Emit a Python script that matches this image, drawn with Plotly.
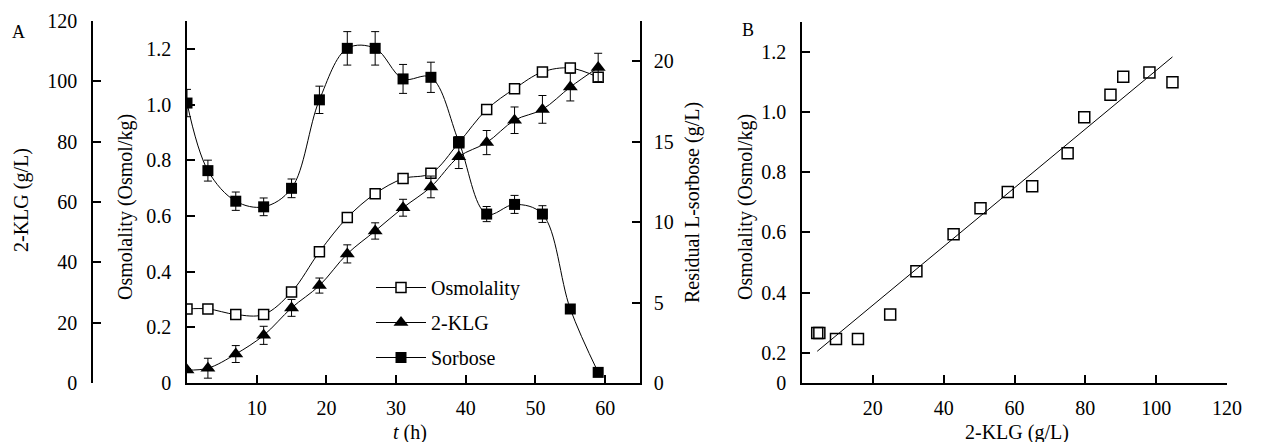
import numpy as np
import plotly.graph_objects as go

# ---------------- data ----------------
time_h = [0, 3, 7, 11, 15, 19, 23, 27, 31, 35, 39, 43, 47, 51, 55, 59]
osmolality = [0.266, 0.266, 0.246, 0.246, 0.327, 0.471, 0.594, 0.680, 0.734,
              0.753, 0.863, 0.982, 1.057, 1.117, 1.131, 1.098]
osmolality_err = [0.01] * 16
klg = [4.3, 4.9, 9.6, 15.8, 24.9, 32.3, 42.8, 50.4, 58.1, 65.0, 75.0, 79.7,
       87.1, 90.7, 98.1, 104.6]
klg_err = [0.5, 3.3, 2.8, 3.0, 2.8, 2.5, 3.0, 2.7, 2.8, 3.6, 3.9, 4.0, 4.4, 4.6, 4.6, 4.7]
sorbose = [17.4, 13.2, 11.3, 10.95, 12.1, 17.6, 20.8, 20.8, 18.9, 19.0, 15.0,
           10.5, 11.1, 10.5, 4.6, 0.66]
sorbose_err = [0.85, 0.65, 0.57, 0.55, 0.58, 0.85, 1.04, 1.04, 0.9, 0.94, 0.3,
               0.47, 0.56, 0.52, 0.1, 0.1]

x_ticks_A = [10, 20, 30, 40, 50, 60]
osm_ticks = [0, 0.2, 0.4, 0.6, 0.8, 1.0, 1.2]
osm_ticktext = ["0", "0.2", "0.4", "0.6", "0.8", "1.0", "1.2"]
klg_ticks = [0, 20, 40, 60, 80, 100, 120]
sorb_ticks = [0, 5, 10, 15, 20]
x_ticks_B = [20, 40, 60, 80, 100, 120]
osm_ticks_B = [0.1, 0.2, 0.4, 0.6, 0.8, 1.0, 1.2]
osm_ticktext_B = ["0", "0.2", "0.4", "0.6", "0.8", "1.0", "1.2"]

# linear fit for panel B
slope, intercept = np.polyfit(klg, osmolality, 1)
fit_x = [min(klg), max(klg)]
fit_y = [slope * v + intercept for v in fit_x]

W, H = 1276, 442
FONT = "Liberation Serif, Times New Roman, serif"
FS = 20

def px(x):
    return x / W

def py(y):
    return (H - y) / H

fig = go.Figure()

err_style = dict(color="black", thickness=1, width=4)

fig.add_trace(go.Scatter(
    x=time_h, y=osmolality, name="Osmolality", mode="lines+markers", legendgroup="a",
    line=dict(color="black", width=1, shape="spline", smoothing=1.0),
    marker=dict(symbol="square", size=10, color="white", line=dict(color="black", width=1.5)),
    error_y=dict(type="data", array=osmolality_err, visible=True, **err_style),
    xaxis="x", yaxis="y"))

fig.add_trace(go.Scatter(
    x=time_h, y=klg, name="2-KLG", mode="lines+markers", legendgroup="b",
    line=dict(color="black", width=1, shape="spline", smoothing=1.0),
    marker=dict(symbol="triangle-up", size=13, color="black"),
    error_y=dict(type="data", array=klg_err, visible=True, **err_style),
    xaxis="x", yaxis="y2"))

fig.add_trace(go.Scatter(
    x=time_h, y=sorbose, name="Sorbose", mode="lines+markers", legendgroup="c",
    line=dict(color="black", width=1, shape="spline", smoothing=1.0),
    marker=dict(symbol="square", size=11, color="black"),
    error_y=dict(type="data", array=sorbose_err, visible=True, **err_style),
    xaxis="x", yaxis="y3"))

# Panel B
fig.add_trace(go.Scatter(
    x=fit_x, y=fit_y, mode="lines", showlegend=False,
    line=dict(color="black", width=1), xaxis="x2", yaxis="y4"))
fig.add_trace(go.Scatter(
    x=klg, y=osmolality, mode="markers", showlegend=False,
    marker=dict(symbol="square-open", size=11, color="black", line=dict(width=1.5)),
    xaxis="x2", yaxis="y4"))

axis_common = dict(showline=True, linecolor="black", linewidth=1.5, ticks="inside",
                   ticklen=8, tickwidth=1.5, tickcolor="black", showgrid=False,
                   zeroline=False, automargin=False,
                   tickfont=dict(family=FONT, size=FS, color="black"))

y_dom = [py(383), py(21)]

fig.update_layout(
    width=W, height=H, margin=dict(l=0, r=0, t=0, b=0, autoexpand=False),
    paper_bgcolor="white", plot_bgcolor="rgba(0,0,0,0)",
    font=dict(family=FONT, size=FS, color="black"),
    xaxis=dict(domain=[px(187), px(640)], range=[0, 65], tickvals=x_ticks_A,
               anchor="y", ticklabelstandoff=6, **axis_common),
    yaxis=dict(domain=y_dom, range=[0, 1.3], tickvals=osm_ticks, ticktext=osm_ticktext,
               anchor="x", ticklabelstandoff=10, **axis_common),
    yaxis2=dict(domain=y_dom, range=[0, 120], tickvals=klg_ticks, overlaying="y",
                anchor="free", position=px(92), side="left", ticklabelstandoff=10,
                **axis_common),
    yaxis3=dict(domain=y_dom, range=[0, 22.5], tickvals=sorb_ticks, overlaying="y",
                anchor="x", side="right", ticklabelstandoff=8, **axis_common),
    xaxis2=dict(domain=[px(802), px(1227)], range=[0, 120], tickvals=x_ticks_B,
                anchor="y4", ticklabelstandoff=6, **axis_common),
    yaxis4=dict(domain=[py(383), py(21.5)], range=[0.1, 1.3], tickvals=osm_ticks_B,
                ticktext=osm_ticktext_B, anchor="x2", ticklabelstandoff=10, **axis_common),
    legend=dict(x=px(371), y=py(268), xanchor="left", yanchor="top",
                bgcolor="rgba(0,0,0,0)", itemwidth=50, traceorder="grouped",
                tracegroupgap=6, font=dict(family=FONT, size=FS, color="black")),
    showlegend=True,
)

annos = [
    dict(text="A", x=px(18), y=py(32)),
    dict(text="B", x=px(748), y=py(30)),
    dict(text="2-KLG (g/L)", x=px(22), y=py(200), textangle=-90),
    dict(text="Osmolality (Osmol/kg)", x=px(125), y=py(207), textangle=-90),
    dict(text="Residual L-sorbose (g/L)", x=px(692), y=py(203), textangle=-90),
    dict(text="<i>t</i> (h)", x=px(410), y=py(432)),
    dict(text="Osmolality (Osmol/kg)", x=px(745), y=py(207), textangle=-90),
    dict(text="2-KLG (g/L)", x=px(1017), y=py(432)),
]
for a in annos:
    fig.add_annotation(xref="paper", yref="paper", showarrow=False,
                       xanchor="center", yanchor="middle",
                       font=dict(family=FONT, size=FS if a["text"] not in ("A", "B") else 18,
                                 color="black"), **a)

fig.write_html("out.html")
